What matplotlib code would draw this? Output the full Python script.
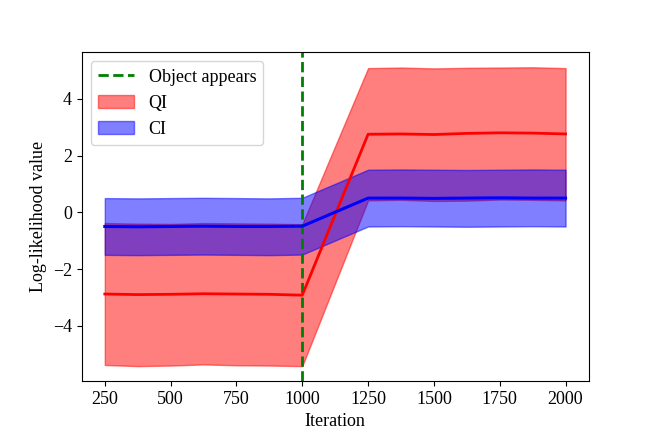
import numpy as np
import matplotlib
matplotlib.use('Agg')
import matplotlib.pyplot as plt

plt.rcParams['font.family'] = ['Liberation Serif', 'DejaVu Serif']
plt.rcParams['font.size'] = 13

# iteration grid (hand-read values)
iters = [250, 375, 500, 625, 750, 875, 1000, 1250, 1375, 1500, 1625, 1750, 1875, 2000]

# QI: mean and band
qi_mean = [-2.88, -2.90, -2.89, -2.87, -2.88, -2.89, -2.92, 2.75, 2.76, 2.74, 2.78, 2.80, 2.79, 2.76]
qi_low = [-5.38, -5.42, -5.40, -5.36, -5.39, -5.40, -5.42, 0.42, 0.44, 0.40, 0.41, 0.45, 0.44, 0.42]
qi_high = [-0.38, -0.40, -0.41, -0.38, -0.39, -0.40, -0.42, 5.08, 5.10, 5.07, 5.09, 5.10, 5.11, 5.08]

# CI: mean and band
ci_mean = [-0.50, -0.51, -0.50, -0.49, -0.50, -0.50, -0.49, 0.50, 0.50, 0.49, 0.50, 0.51, 0.50, 0.50]
ci_low = [-1.50, -1.51, -1.50, -1.49, -1.50, -1.51, -1.49, -0.50, -0.49, -0.50, -0.51, -0.50, -0.49, -0.50]
ci_high = [0.50, 0.49, 0.50, 0.51, 0.50, 0.49, 0.51, 1.50, 1.51, 1.50, 1.49, 1.50, 1.51, 1.50]

event_iter = 1000

fig, ax = plt.subplots(figsize=(6.54, 4.36), dpi=100)
fig.subplots_adjust(left=0.125, right=0.9, top=0.88, bottom=0.126)

ax.axvline(event_iter, color='green', linestyle='--', linewidth=2, label='Object appears')
ax.fill_between(iters, qi_low, qi_high, color='red', alpha=0.5, label='QI')
ax.plot(iters, qi_mean, color='red', linewidth=2)
ax.fill_between(iters, ci_low, ci_high, color='blue', alpha=0.5, label='CI')
ax.plot(iters, ci_mean, color='blue', linewidth=2.2)

ax.set_xlabel('Iteration')
ax.set_ylabel('Log-likelihood value')
ax.set_xticks([250, 500, 750, 1000, 1250, 1500, 1750, 2000])
ax.legend(loc='upper left')

plt.savefig('out.png', dpi=100)
